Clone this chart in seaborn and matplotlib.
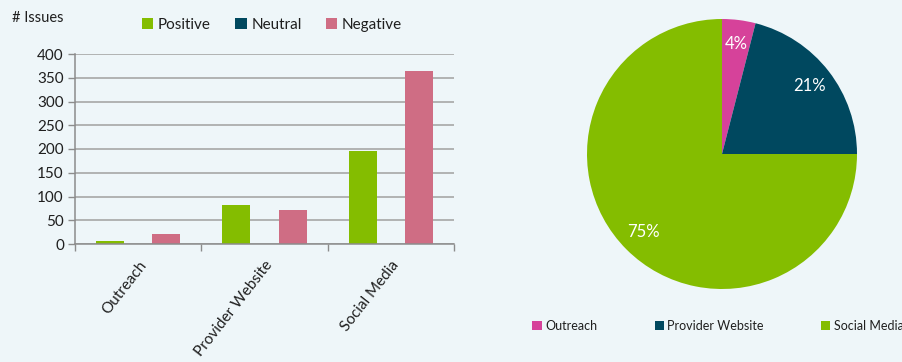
import matplotlib
matplotlib.use("Agg")
import matplotlib.pyplot as plt
from matplotlib.patches import Patch
import seaborn as sns
import pandas as pd

# Issue counts by channel and sentiment
channels = ["Outreach", "Provider Website", "Social Media"]
sentiments = ["Positive", "Neutral", "Negative"]
positive = [6, 82, 196]
neutral = [0, 0, 0]
negative = [22, 72, 365]

# Share of issues by channel (percent)
share_labels = ["Outreach", "Provider Website", "Social Media"]
share_values = [4, 21, 75]

yticks = [0, 50, 100, 150, 200, 250, 300, 350, 400]

BG = "#EEF6F9"
GREEN = "#84BD00"
TEAL = "#00485F"
PINK = "#CF6D84"
MAGENTA = "#D6429A"
TEXT = "#1F1F1F"

sns.set_theme(style="white")
plt.rcParams["font.family"] = ["Lato", "DejaVu Sans"]

df = pd.DataFrame({
    "channel": channels * 3,
    "sentiment": [s for s in sentiments for _ in channels],
    "issues": positive + neutral + negative,
})

fig = plt.figure(figsize=(9.03, 3.62), dpi=100, facecolor=BG)

# ---- Bar chart ----
ax = fig.add_axes([75 / 903, 1 - 244 / 362, 379 / 903, 190 / 362])
ax.set_facecolor(BG)
ax.set_axisbelow(True)
sns.barplot(data=df, x="channel", y="issues", hue="sentiment",
            order=channels, hue_order=sentiments,
            palette=[GREEN, TEAL, PINK], width=0.667, saturation=1,
            edgecolor="none", ax=ax, legend=False)
ax.set_xlim(-0.5, 2.5)
ax.set_ylim(0, 400)
ax.set_yticks(yticks)
ax.yaxis.grid(True, color="#A0A0A0", linewidth=1.1)
ax.tick_params(axis="y", length=5, color="#8C8C8C", width=1, labelsize=11,
               labelcolor=TEXT, pad=3, left=True)
ax.set_xticks(range(len(channels)))
ax.set_xticklabels(channels, rotation=52, ha="right", rotation_mode="anchor",
                   fontsize=11, color=TEXT)
ax.tick_params(axis="x", which="major", length=0, pad=10)
ax.set_xticks([-0.5, 0.5, 1.5, 2.5], minor=True)
ax.tick_params(axis="x", which="minor", length=5, color="#8C8C8C", width=1,
               bottom=True)
for side in ["top", "right"]:
    ax.spines[side].set_visible(False)
for side in ["left", "bottom"]:
    ax.spines[side].set_color("#8C8C8C")
    ax.spines[side].set_linewidth(1.1)
ax.set_xlabel("")
ax.set_ylabel("")
fig.text(12 / 903, 1 - 18 / 362, "# Issues", fontsize=10.5, color=TEXT,
         va="center", ha="left")

bar_handles = [Patch(facecolor=c, edgecolor="none") for c in (GREEN, TEAL, PINK)]
fig.legend(bar_handles, sentiments, loc="center", ncol=3,
           bbox_to_anchor=(272 / 903, 1 - 25 / 362), frameon=False,
           fontsize=11, handlelength=0.75, handleheight=0.75,
           handletextpad=0.3, columnspacing=1.6, labelcolor=TEXT)

# ---- Pie chart ----
r = 135
pax = fig.add_axes([(722 - r) / 903, 1 - (154 + r) / 362, 2 * r / 903, 2 * r / 362])
pax.set_facecolor(BG)
wedges, _, autotexts = pax.pie(
    share_values, colors=[MAGENTA, TEAL, GREEN], startangle=90,
    counterclock=False, autopct="%.0f%%", pctdistance=0.82,
    wedgeprops=dict(linewidth=0), textprops=dict(color="white", fontsize=12),
)
pax.set_aspect("equal")
pax.set_xlim(-1, 1)
pax.set_ylim(-1, 1)

pie_handles = [Patch(facecolor=c, edgecolor="none") for c in (MAGENTA, TEAL, GREEN)]
fig.legend(pie_handles, share_labels, loc="center", ncol=3,
           bbox_to_anchor=(718 / 903, 1 - 326 / 362), frameon=False,
           fontsize=9, handlelength=0.75, handleheight=0.75,
           handletextpad=0.25, columnspacing=4.6, labelcolor=TEXT)

fig.savefig("out.png", dpi=100, facecolor=BG)
